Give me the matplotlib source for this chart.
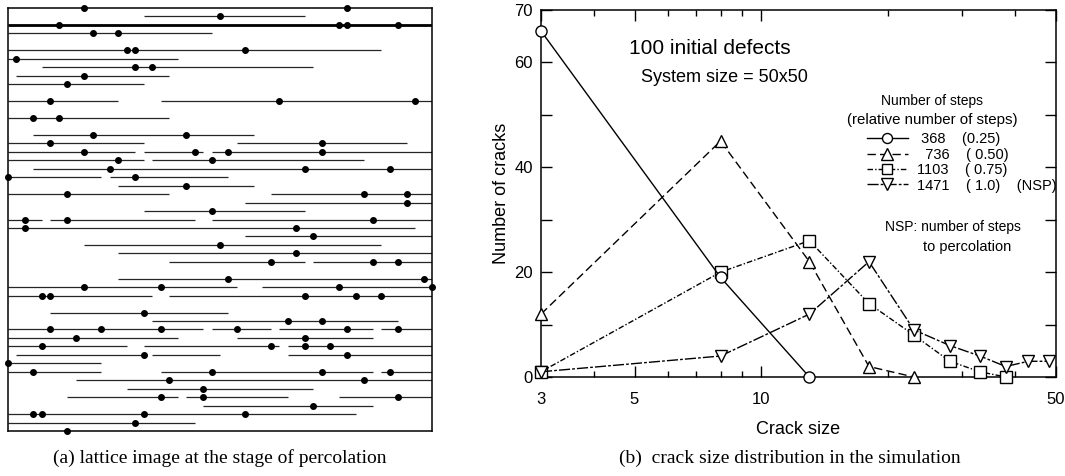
import matplotlib
matplotlib.use("Agg")
import matplotlib.pyplot as plt
from matplotlib.ticker import FixedLocator, NullFormatter

plt.rcParams['font.family'] = ['Liberation Sans', 'DejaVu Sans']

# ---- (a) lattice: cracks as (row, start col, end col), defects as (row, col)
seg_row = [1, 2, 3, 5, 6, 7, 8, 9, 11, 11, 13, 15, 16, 16, 17, 17, 17, 18, 18, 19,
           20, 20, 21, 22, 22, 23, 24, 25, 25, 25, 26, 27, 28, 29, 30, 30, 32, 33, 33,
           34, 34, 36, 37, 38, 38, 38, 38, 39, 39, 40, 40, 40, 41, 41, 41, 42, 43, 43,
           43, 44, 45, 46, 46, 46, 47, 48, 49]
seg_start = [16, 0, 0, 0, 0, 4, 1, 0, 0, 18, 0, 3, 0, 27, 0, 16, 24, 0, 17, 3,
             0, 12, 13, 0, 31, 28, 16, 0, 5, 24, 0, 28, 9, 13, 19, 36, 13, 0, 30,
             0, 19, 5, 17, 0, 24, 32, 44, 0, 27, 0, 16, 33, 1, 17, 33, 0, 0, 18,
             44, 8, 14, 7, 21, 39, 23, 0, 0]
seg_end = [35, 50, 24, 44, 20, 36, 19, 16, 13, 50, 19, 29, 16, 47, 15, 23, 50, 16, 42, 50,
           11, 26, 29, 19, 50, 50, 35, 4, 22, 50, 48, 50, 44, 50, 35, 50, 50, 27, 50,
           17, 50, 26, 46, 23, 31, 43, 50, 20, 43, 14, 32, 50, 16, 25, 50, 11, 11, 43,
           50, 50, 36, 20, 33, 50, 43, 41, 22]

dot_row = [0, 0, 1, 2, 2, 2, 2, 3, 3, 5, 5, 5, 6, 7, 7, 8, 9, 11, 11, 11, 13, 13,
           15, 15, 16, 16, 17, 17, 17, 17, 18, 18, 19, 19, 19, 20, 20, 21, 22, 22, 22,
           23, 24, 25, 25, 25, 26, 26, 27, 28, 29, 30, 30, 30, 32, 32, 33, 33, 33, 33,
           34, 34, 34, 34, 34, 36, 37, 37, 38, 38, 38, 38, 38, 38, 39, 39, 40, 40, 40, 40,
           41, 41, 42, 43, 43, 43, 43, 44, 44, 45, 46, 46, 46, 47, 48, 48, 48, 48, 49, 50]
dot_col = [9, 40, 25, 6, 39, 40, 46, 10, 13, 14, 15, 28, 1, 15, 17, 9, 7, 5, 32, 48, 3, 6,
           10, 21, 5, 37, 9, 22, 26, 37, 13, 24, 12, 35, 45, 0, 15, 21, 7, 42, 47,
           47, 24, 2, 7, 43, 2, 34, 36, 25, 34, 31, 43, 46, 26, 49, 9, 18, 39, 50,
           4, 5, 35, 41, 44, 16, 33, 37, 5, 11, 18, 27, 40, 46, 8, 35, 4, 31, 35, 38,
           16, 40, 0, 3, 24, 37, 45, 19, 42, 23, 18, 23, 46, 36, 3, 4, 16, 28, 15, 7]

# ---- (b) crack size distribution
crack_size = [3, 8, 13, 18, 23, 28, 33, 38, 43, 48]
n_368 = [66, 19, 0]
n_736 = [12, 45, 22, 2, 0]
n_1103 = [1, 20, 26, 14, 8, 3, 1, 0]
n_1471 = [1, 4, 12, 22, 9, 6, 4, 2, 3, 3]
steps = ['368', '736', '1103', '1471']
rel_steps = ['(0.25)', '( 0.50)', '( 0.75)', '( 1.0)    (NSP)']

fig = plt.figure(figsize=(10.65, 4.76), dpi=100)

axL = fig.add_axes([8 / 1065, 45 / 476, 424 / 1065, 423 / 476])
axL.hlines(seg_row, seg_start, seg_end, color='0.15', lw=0.9)
axL.hlines([2], [0], [50], color='black', lw=2)
axL.plot(dot_col, dot_row, 'o', color='black', ms=4, clip_on=False, zorder=5)
axL.set_xlim(0, 50)
axL.set_ylim(50, 0)
axL.set_xticks([])
axL.set_yticks([])
for s in axL.spines.values():
    s.set_linewidth(1.1)

axR = fig.add_axes([541 / 1065, 99 / 476, 515 / 1065, 367 / 476])
axR.plot(crack_size[:3], n_368, '-', color='black', lw=1, marker='o', ms=8,
         mfc='white', mec='black', mew=1, label=f' {steps[0]}    {rel_steps[0]}', zorder=4, clip_on=False)
axR.plot(crack_size[:5], n_736, color='black', lw=1, ls=(0, (6, 3)), marker='^', ms=9,
         mfc='white', mec='black', mew=1, label=f'  {steps[1]}    {rel_steps[1]}', zorder=3, clip_on=False)
axR.plot(crack_size[:8], n_1103, color='black', lw=1, ls=(0, (4, 1.5, 1, 1.5)), marker='s', ms=8,
         mfc='white', mec='black', mew=1, label=f'{steps[2]}    {rel_steps[2]}', zorder=3, clip_on=False)
axR.plot(crack_size, n_1471, color='black', lw=1, ls=(0, (8, 1.5, 2, 1.5)), marker='v', ms=9,
         mfc='white', mec='black', mew=1, label=f'{steps[3]}    {rel_steps[3]}', zorder=3, clip_on=False)

axR.set_xscale('log')
axR.set_xlim(3, 50)
axR.set_ylim(0, 70)
axR.xaxis.set_major_locator(FixedLocator([3, 5, 10, 50]))
axR.xaxis.set_major_formatter(plt.FixedFormatter(['3', '5', '10', '50']))
axR.xaxis.set_minor_locator(FixedLocator([4, 6, 7, 8, 9, 20, 30, 40]))
axR.xaxis.set_minor_formatter(NullFormatter())
axR.set_yticks(range(0, 71, 10))
axR.set_yticklabels(['0', '', '20', '', '40', '', '60', '70'])
axR.tick_params(which='major', direction='in', top=True, right=True, length=8, width=1,
                labelsize=12, pad=6)
axR.tick_params(axis='x', which='major', pad=11)
axR.tick_params(which='minor', direction='in', top=True, right=True, length=4, width=1)
for s in axR.spines.values():
    s.set_linewidth(1.1)
axR.set_xlabel('Crack size', fontsize=13, labelpad=10)
axR.set_ylabel('Number of cracks', fontsize=13, labelpad=3)

axR.text(0.327, 0.895, '100 initial defects', transform=axR.transAxes, fontsize=15,
         ha='center', va='center')
axR.text(0.356, 0.815, 'System size = 50x50', transform=axR.transAxes, fontsize=13,
         ha='center', va='center')
axR.text(0.759, 0.753, 'Number of steps', transform=axR.transAxes, fontsize=10,
         ha='center', va='center')
axR.text(0.759, 0.700, '(relative number of steps)', transform=axR.transAxes, fontsize=10.8,
         ha='center', va='center')
axR.text(0.668, 0.409, 'NSP: number of steps', transform=axR.transAxes, fontsize=10,
         ha='left', va='center')
axR.text(0.914, 0.355, 'to percolation', transform=axR.transAxes, fontsize=10.5,
         ha='right', va='center')
axR.legend(loc='upper left', bbox_to_anchor=(0.633, 0.667), frameon=False, fontsize=10.5,
           handlelength=2.8, handletextpad=0.6, labelspacing=0.1, borderpad=0,
           borderaxespad=0, numpoints=1, markerscale=0.9)

fig.text(220 / 1065, 1 - 458 / 476, '(a) lattice image at the stage of percolation',
         family=['Liberation Serif', 'DejaVu Serif'], fontsize=14, ha='center', va='center')
fig.text(790 / 1065, 1 - 458 / 476, '(b)  crack size distribution in the simulation',
         family=['Liberation Serif', 'DejaVu Serif'], fontsize=14, ha='center', va='center')

fig.savefig('out.png', dpi=100)
